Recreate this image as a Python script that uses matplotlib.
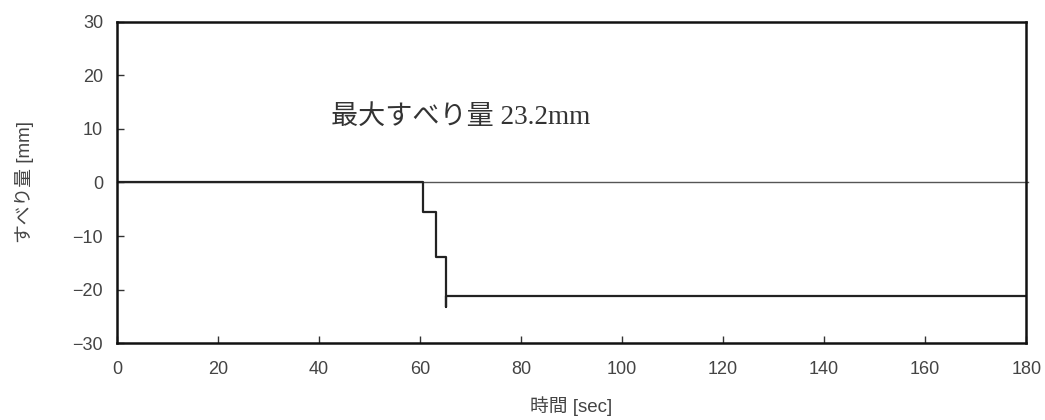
import numpy as np
import matplotlib.pyplot as plt

plt.rcParams['font.family'] = ['Liberation Sans', 'Noto Sans CJK JP', 'DejaVu Sans']

# slip history
time_sec = [0, 60.5, 60.5, 63.1, 63.1, 65.1, 65.1, 65.1, 180]
slip_mm = [0, 0, -5.6, -5.6, -14.0, -14.0, -23.2, -21.2, -21.2]

x_ticks = [0, 20, 40, 60, 80, 100, 120, 140, 160, 180]
y_ticks = [-30, -20, -10, 0, 10, 20, 30]

fig = plt.figure(figsize=(10.45, 4.2), dpi=100)
ax = fig.add_axes([0.112, 0.183, 0.87, 0.765])

ax.axhline(0, color='#555555', lw=1.0, clip_on=False, xmax=1.002)
ax.plot(time_sec, slip_mm, color='#222222', lw=1.6)

ax.text(42.3, 12.2, '最大すべり量 23.2mm', fontsize=19.5, color='#333333',
        va='center', ha='left', family=['Liberation Serif', 'Noto Sans CJK JP'])

ax.set_xlim(0, 180)
ax.set_ylim(-30, 30)
ax.set_xticks(x_ticks)
ax.set_yticks(y_ticks)
ax.tick_params(direction='in', length=5, width=1, colors='#333333',
               labelcolor='#444444', labelsize=13, pad=10)
ax.tick_params(axis='x', pad=13)
for sp in ax.spines.values():
    sp.set_linewidth(1.8)
    sp.set_color('#111111')

ax.set_xlabel('時間 [sec]', fontsize=13.5, color='#444444', labelpad=13)
ax.set_ylabel('すべり量 [mm]', fontsize=13.5, color='#444444', labelpad=28)

plt.savefig('out.png', dpi=100)
plt.close()
